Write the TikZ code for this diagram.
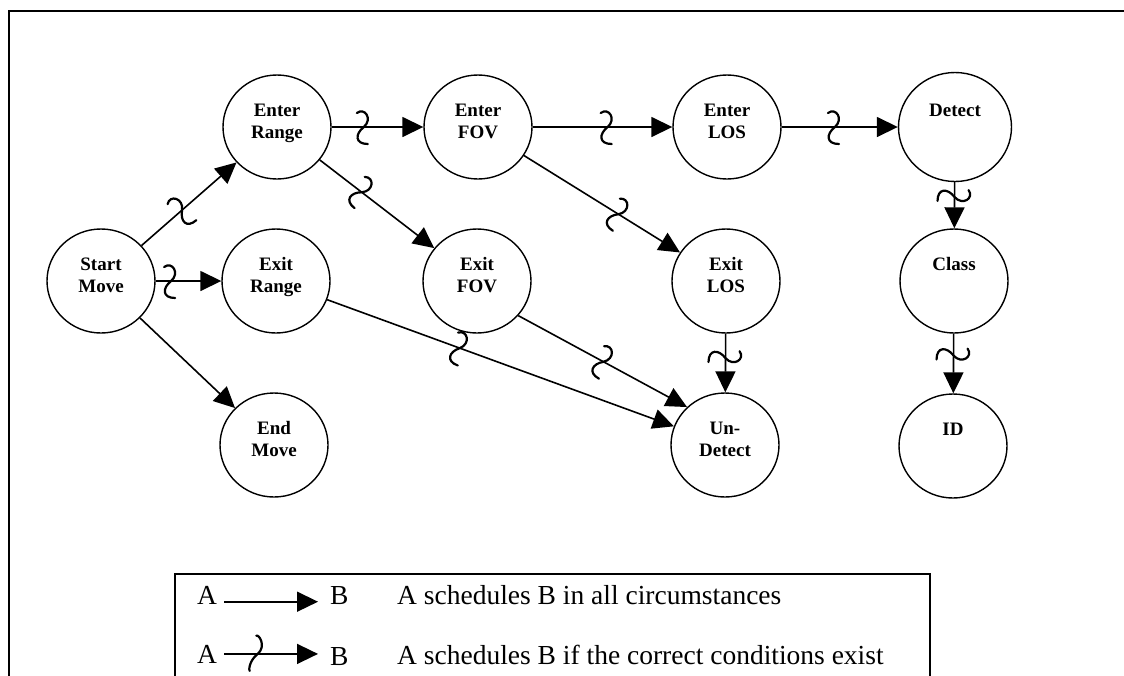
\documentclass[tikz,border=0pt]{standalone}
\usepackage{fontspec}
\setmainfont{Liberation Serif}
\usetikzlibrary{arrows.meta,decorations.markings,shapes.geometric}

\newcommand{\evtxt}[1]{\raisebox{4pt}[\height][\depth]{\begin{tabular}{@{}c@{}}#1\end{tabular}}}

\tikzset{
  event/.style={draw, line width=1.4pt, ellipse, minimum width=108pt, minimum height=104pt,
    inner sep=0pt, font=\bfseries\fontsize{19}{22}\selectfont},
  sched/.style={line width=1.6pt, -{Triangle[length=21pt,width=20pt]}},
  cond/.style={postaction={decorate}, decoration={markings, mark=at position #1 with {
      \draw[-, line width=2.2pt, line cap=round]
        (-6,14) .. controls (2,20) and (10,8) .. (1,0)
        .. controls (-8,-7) and (-8,-17) .. (5,-17);}}},
  legtxt/.style={inner sep=0pt, font=\fontsize{27.5}{32}\selectfont}
}

\begin{document}
\begin{tikzpicture}[x=1pt,y=1pt]
\useasboundingbox (0,0) rectangle (1124,-675);
\clip (0,0) rectangle (1124,-675);

% outer frame
\draw[line width=2.4pt] (9,-11) rectangle (1140,-700);

% events
\node[event] (sm) at (101,-281) {\evtxt{Start\\Move}};
\node[event] (er) at (277,-127) {\evtxt{Enter\\Range}};
\node[event] (xr) at (276,-281) {\evtxt{Exit\\Range}};
\node[event] (em) at (274,-445) {\evtxt{End\\Move}};
\node[event] (ef) at (478,-127) {\evtxt{Enter\\FOV}};
\node[event] (xf) at (477,-281) {\evtxt{Exit\\FOV}};
\node[event] (el) at (727,-127) {\evtxt{Enter\\LOS}};
\node[event] (xl) at (726,-281) {\evtxt{Exit\\LOS}};
\node[event] (ud) at (725,-445) {\evtxt{Un-\\Detect}};
\node[event, minimum width=113pt, minimum height=109pt] (dt) at (955,-127) {\evtxt{Detect\\\mbox{}}};
\node[event] (cl) at (954,-281) {\evtxt{Class\\\mbox{}}};
\node[event] (id) at (953,-446) {\evtxt{ID\\\mbox{}}};

% scheduling relations
\draw[sched, cond=0.42] (sm) -- (er);
\draw[sched, cond=0.22] (sm) -- (xr);
\draw[sched] (sm) -- (em);
\draw[sched, cond=0.34] (er) -- (ef);
\draw[sched, cond=0.36] (er) -- (xf);
\draw[sched, cond=0.53] (ef) -- (el);
\draw[sched, cond=0.6] (ef) -- (xl);
\draw[sched, cond=0.45] (el) -- (dt);
\draw[sched, cond=0.3] (dt) -- (cl);
\draw[sched, cond=0.38] (xr) -- (ud);
\draw[sched, cond=0.5] (xf.-40) -- (ud.135);
\draw[sched, cond=0.4] (xl) -- (ud);
\draw[sched, cond=0.35] (cl) -- (id);

% legend
\draw[line width=2pt] (175,-574) rectangle (930,-700);
\node[legtxt, anchor=base west] (la1) at (197,-604) {A};
\node[legtxt, anchor=base west] (lb1) at (330,-604) {B};
\node[legtxt, anchor=base west] (lt1) at (397,-604) {A schedules B in all circumstances};
\node[legtxt, anchor=base west] (la2) at (197,-663) {A};
\node[legtxt, anchor=base west] (lb2) at (330,-665) {B};
\node[legtxt, anchor=base west] (lt2) at (397,-664) {A schedules B if the correct conditions exist};
\draw[sched, shorten <=7pt, shorten >=12pt] (la1.mid east) -- (la1.mid east -| lb1.west);
\draw[sched, cond=0.35, shorten <=7pt, shorten >=12pt] (la2.east) -- (la2.east -| lb2.west);
\end{tikzpicture}
\end{document}
